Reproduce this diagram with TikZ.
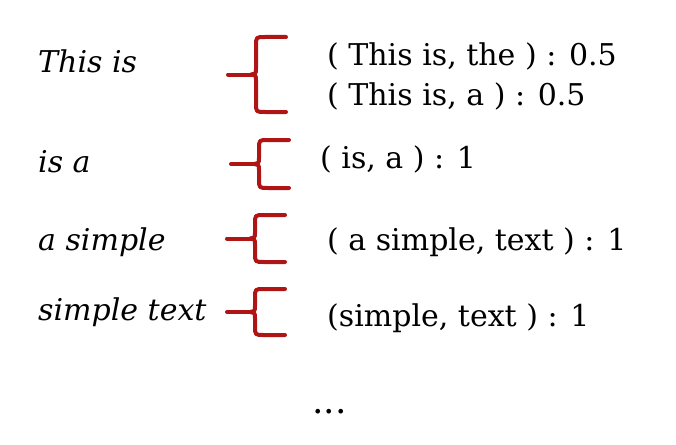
\documentclass[tikz,border=0pt]{standalone}
\usepackage{fontspec}
\setmainfont{DejaVu Serif}
\definecolor{bracered}{HTML}{B01515}
\newcommand{\redbrace}[3]{% stem x, top y, bottom y
  \pgfmathsetmacro{\bx}{#1+28}
  \pgfmathsetmacro{\bm}{(#2+#3)/2}
  \draw[brace style] (\bx+30,#2) -- (\bx+9,#2) .. controls (\bx,#2) .. (\bx,#2+9)
    -- (\bx,\bm-6) .. controls (\bx,\bm-1) .. (\bx-5,\bm)
    .. controls (\bx,\bm+1) .. (\bx,\bm+6) -- (\bx,#3-9)
    .. controls (\bx,#3) .. (\bx+9,#3) -- (\bx+30,#3);
  \draw[brace style] (#1,\bm) -- (\bx-5,\bm);
}
\begin{document}
\begin{tikzpicture}[x=1pt, y=-1pt,
  word style/.style={anchor=base west, inner sep=0pt, font=\fontsize{30}{34}\selectfont\itshape},
  pair style/.style={anchor=base west, inner sep=0pt, font=\fontsize{30}{34}\selectfont}]
	\tikzset{brace style/.style={draw=bracered, line width=4pt, line cap=round, line join=round}}
	\useasboundingbox (0,0) rectangle (676,444);
	% bigrams on the left
	\node[word style] (W1) at (38,72) {This is};
	\node[word style] (W2) at (38,172) {is a};
	\node[word style] (W3) at (38,250) {a simple};
	\node[word style] (W4) at (38,320) {simple text};
	% braces
	\redbrace{228}{37}{112}
	\redbrace{231}{140}{188}
	\redbrace{227}{215}{262}
	\redbrace{227}{289}{335}
	% probabilities on the right
	\node[pair style] (P1) at (327,65) {( This is, the ) : 0.5};
	\node[pair style] (P2) at (327,105) {( This is, a ) : 0.5};
	\node[pair style] (P3) at (320,168) {( is, a ) : 1};
	\node[pair style] (P4) at (327,250) {( a simple, text ) : 1};
	\node[pair style] (P5) at (327,326) {(simple, text ) : 1};
	\node[pair style, font=\fontsize{36}{40}\selectfont] (P6) at (312,413) {...};
\end{tikzpicture}
\end{document}
